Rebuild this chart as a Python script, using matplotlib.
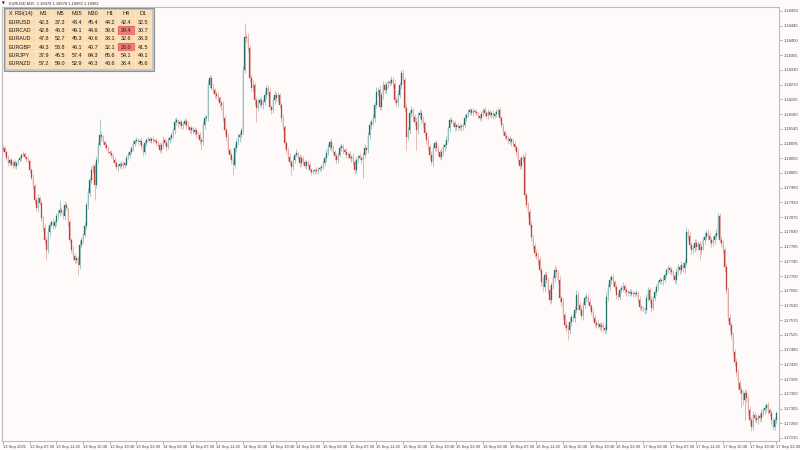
"""
EURUSD M15 - vela japonesa estilo MT4 con tabla RSI(14) multi-marco.
"""
import numpy as np
import matplotlib
matplotlib.use("Agg")
import matplotlib.pyplot as plt
from matplotlib.patches import Rectangle

FONT = ["Liberation Sans Narrow", "Liberation Sans", "DejaVu Sans"]
BG = "#FFFAFA"
BULL, BEAR = "#23716D", "#B8433F"
BULL_W, BEAR_W = "#86B8B4", "#E0A09E"

# ── datos ─────────────────────────────────────────────────────────────────────
BASE = 1.17000           # precio = BASE + puntos / 1e5
FIRST_OPEN = 1075

CLOSE_PTS = [
    # 13 Sep
    1081, 1069, 1051, 1036, 1045, 1030, 1039, 1027, 1036, 1045,
    1051, 1060, 1063, 1054, 1048, 1042, 1015, 991, 967, 925,
    901, 931, 916, 872, 842, 806, 776, 830, 851, 860,
    848, 860, 878, 887, 896, 890, 878, 910, 901, 860,
    806, 776, 758, 746, 752, 731, 791, 806, 821, 848,
    910, 946, 985, 1015, 1027, 970, 1045, 1090, 1119, 1113,
    1099, 1090, 1081, 1069, 1066, 1060, 1045, 1036, 1024, 1027,
    1033, 1027, 1036, 1030, 1051, 1060, 1069, 1081, 1093, 1102,
    1105, 1099, 1102, 1087, 1069, 1096, 1105, 1107, 1102, 1107,
    1105, 1102, 1096, 1090, 1075,
    # 14 Sep
    1090, 1105, 1096, 1084, 1105, 1110, 1119, 1134, 1158, 1164,
    1152, 1158, 1146, 1152, 1161, 1149, 1143, 1134, 1140, 1128,
    1134, 1122, 1119, 1105, 1099, 1149, 1170, 1173, 1269, 1290,
    1260, 1254, 1242, 1236, 1230, 1215, 1209, 1170, 1134, 1113,
    1075, 1060, 1045, 1030, 1081, 1099, 1113, 1119, 1134, 1314,
    1412, 1409, 1379, 1290, 1260, 1269, 1224, 1200, 1215, 1224,
    1209, 1218, 1239, 1260, 1248, 1203, 1194, 1224, 1239, 1230,
    1239, 1209, 1170, 1143, 1096, 1075, 1054, 1039, 1024, 1045,
    1060, 1066, 1054, 1036, 1051, 1039, 1027, 1039, 1030, 1015,
    1009, 1012, 1015, 1012, 1018, 1021,
    # 15 Sep
    1024, 1036, 1051, 1066, 1084, 1099, 1081, 1069, 1057, 1045,
    1060, 1081, 1087, 1075, 1069, 1060, 1063, 1051, 1054, 1039,
    1015, 1045, 1057, 1051, 1045, 1060, 1081, 1075, 1119, 1149,
    1158, 1170, 1209, 1248, 1254, 1203, 1239, 1269, 1254, 1269,
    1278, 1275, 1284, 1272, 1224, 1215, 1239, 1269, 1305, 1284,
    1200, 1113, 1134, 1185, 1194, 1173, 1158, 1134, 1179, 1185,
    1164, 1155, 1125, 1105, 1084, 1060, 1039, 1081, 1096, 1081,
    1069, 1054, 1069, 1084, 1090, 1105, 1140, 1164, 1158, 1155,
    1143, 1149, 1140, 1146, 1143, 1149, 1170, 1179, 1188, 1194,
    1185, 1191, 1188, 1185, 1176, 1170,
    # 16 Sep
    1182, 1194, 1185, 1176, 1188, 1179, 1185, 1176, 1182, 1188,
    1194, 1170, 1149, 1128, 1116, 1110, 1102, 1107, 1099, 1093,
    1084, 1069, 1045, 1027, 1051, 1054, 940, 910, 890, 851,
    815, 788, 767, 758, 746, 716, 681, 666, 701, 687,
    657, 627, 672, 692, 716, 710, 687, 633, 621, 582,
    552, 543, 537, 561, 576, 573, 597, 642, 612, 597,
    579, 612, 633, 636, 621, 609, 591, 573, 558, 552,
    555, 546, 552, 543, 537, 636, 666, 687, 695, 681,
    666, 642, 636, 657, 663, 669, 657, 651, 648, 651,
    645, 648, 645, 648, 627, 606, 603, 597, 597,
    # 17 Sep
    633, 657, 627, 603, 633, 651, 666, 681, 687, 684,
    687, 701, 716, 722, 716, 710, 698, 687, 710, 725,
    716, 731, 722, 737, 830, 818, 791, 776, 782, 797,
    785, 794, 776, 785, 806, 815, 827, 818, 806, 797,
    806, 818, 827, 878, 806, 797, 776, 725, 657, 573,
    552, 522, 472, 442, 412, 379, 358, 349, 328, 349,
    334, 298, 269, 248, 284, 275, 269, 281, 275, 290,
    298, 304, 313, 298, 290, 269, 248, 269, 290,
]

# mechas (puntos por encima / por debajo del cuerpo)
WICK_UP = [
    8, 5, 6, 9, 4, 7, 5, 10, 6, 4, 7, 5, 8, 6, 4, 9, 5, 6, 12, 8,
    10, 14, 7, 9, 6, 11, 8, 15, 9, 6, 12, 7, 10, 8, 29, 9, 6, 13, 7, 5,
    9, 6, 11, 8, 5, 7, 14, 10, 6, 12, 9, 15, 8, 11, 7, 10, 13, 9, 48, 12,
    8, 6, 10, 5, 7, 9, 4, 8, 6, 5, 7, 10, 6, 4, 8, 9, 5, 7, 11, 6,
    9, 5, 7, 12, 6, 8, 5, 10, 7, 6, 9, 4, 8, 6, 10, 7, 12, 5, 9, 8,
    6, 11, 7, 13, 9, 5, 8, 10, 6, 9, 7, 12, 5, 8, 6, 10, 7, 9, 11, 8,
    12, 9, 7, 15, 8, 10, 13, 7, 9, 11, 6, 8, 12, 9, 10, 14, 7, 9, 6, 11,
    8, 13, 9, 10, 12, 42, 10, 15, 9, 11, 14, 8, 10, 12, 7, 13, 9, 11, 8, 10,
    12, 7, 9, 11, 8, 10, 6, 9, 13, 7, 10, 8, 12, 6, 9, 7, 11, 5, 8, 10,
    6, 9, 7, 5, 8, 6, 7, 4, 9, 5, 6, 8, 10, 7, 11, 9, 6, 12, 8, 7,
    9, 6, 10, 8, 5, 7, 11, 6, 9, 7, 12, 8, 10, 6, 9, 7, 8, 11, 6, 10,
    13, 9, 11, 8, 15, 10, 14, 9, 12, 8, 10, 7, 9, 11, 8, 12, 10, 14, 9, 9,
    11, 8, 13, 10, 9, 12, 7, 10, 15, 8, 11, 9, 13, 7, 10, 12, 8, 11, 9, 7,
    10, 8, 6, 12, 9, 7, 11, 8, 6, 9, 7, 10, 5, 8, 6, 9, 7, 11, 6, 8,
    5, 7, 9, 6, 8, 4, 7, 10, 6, 8, 5, 9, 7, 6, 10, 5, 8, 6, 9, 7,
    8, 6, 10, 7, 9, 5, 11, 8, 6, 12, 9, 7, 10, 14, 8, 11, 9, 13, 7, 10,
    12, 8, 11, 9, 14, 10, 13, 8, 12, 10, 9, 15, 11, 8, 13, 10, 12, 9, 11, 8,
    14, 10, 9, 12, 15, 11, 8, 13, 10, 9, 12, 8, 11, 7, 10, 9, 8, 11, 7, 9,
    8, 10, 14, 9, 12, 8, 11, 7, 9, 10, 6, 8, 11, 7, 9, 6, 8, 10, 5, 7,
    9, 6, 11, 8, 7, 10, 12, 8, 9, 11, 7, 10, 8, 6, 9, 7, 11, 8, 6, 10,
    8, 11, 7, 9, 12, 10, 8, 13, 9, 11, 14, 10, 12, 9, 8, 11, 13, 10, 9, 12,
    10, 14, 9, 12, 11, 8, 13, 10, 12, 10, 9, 11, 8, 10, 13, 9, 12, 8, 11, 9,
    12, 10, 8, 11, 9, 13, 10, 8, 12, 9, 11, 8, 10, 7, 9, 12, 8, 10, 7, 9,
    8, 10, 7, 9, 6,
]
WICK_DN = [
    6, 9, 5, 8, 7, 4, 10, 6, 8, 5, 7, 9, 4, 6, 8, 5, 10, 7, 9, 11,
    8, 12, 6, 10, 9, 13, 30, 8, 11, 7, 9, 6, 12, 8, 10, 7, 9, 11, 6, 13,
    10, 8, 12, 9, 7, 30, 11, 8, 10, 6, 9, 12, 7, 10, 8, 45, 9, 11, 7, 10,
    6, 9, 7, 5, 10, 8, 6, 9, 7, 11, 5, 8, 6, 9, 4, 7, 10, 6, 8, 5,
    7, 9, 5, 8, 11, 6, 9, 4, 7, 6, 8, 5, 9, 7, 6, 10, 8, 6, 11, 7,
    9, 6, 8, 10, 7, 12, 5, 9, 8, 6, 10, 7, 9, 11, 6, 8, 10, 7, 12, 24,
    9, 11, 8, 12, 10, 7, 9, 13, 8, 10, 11, 14, 9, 12, 10, 8, 13, 11, 30, 9,
    12, 10, 14, 8, 11, 10, 13, 9, 12, 10, 11, 14, 42, 9, 12, 10, 13, 8, 11, 9,
    10, 12, 8, 11, 9, 13, 10, 12, 8, 14, 9, 11, 10, 24, 8, 10, 7, 9, 11, 8,
    10, 7, 9, 8, 6, 9, 5, 8, 7, 10, 6, 9, 7, 8, 11, 6, 9, 10, 7, 12,
    8, 10, 7, 9, 11, 6, 8, 10, 7, 12, 9, 11, 8, 10, 7, 13, 54, 9, 11, 8,
    10, 12, 9, 11, 8, 13, 10, 9, 12, 8, 11, 10, 9, 7, 12, 10, 8, 11, 9, 13,
    10, 12, 38, 9, 11, 10, 12, 8, 59, 11, 9, 12, 10, 8, 13, 9, 11, 10, 12, 8,
    9, 11, 7, 10, 8, 12, 9, 7, 10, 6, 8, 11, 7, 9, 6, 10, 8, 7, 9, 6,
    8, 6, 9, 7, 5, 8, 6, 9, 7, 10, 6, 8, 5, 9, 7, 6, 10, 8, 7, 9,
    7, 9, 6, 10, 8, 11, 7, 9, 12, 8, 10, 9, 13, 11, 9, 14, 10, 12, 9, 11,
    10, 13, 9, 12, 11, 14, 10, 12, 9, 13, 11, 10, 14, 9, 12, 11, 13, 10, 12, 30,
    11, 13, 9, 12, 10, 14, 11, 9, 13, 10, 12, 8, 11, 10, 9, 12, 8, 10, 9, 11,
    10, 12, 8, 11, 9, 13, 10, 8, 11, 9, 7, 10, 8, 9, 11, 7, 9, 6, 8, 10,
    7, 9, 8, 10, 6, 11, 8, 10, 9, 12, 7, 9, 8, 10, 6, 9, 11, 7, 9, 8,
    10, 8, 11, 9, 12, 7, 10, 8, 11, 13, 9, 12, 10, 11, 8, 12, 10, 9, 30, 11,
    9, 12, 10, 8, 11, 13, 9, 12, 10, 11, 8, 12, 10, 13, 11, 9, 14, 12, 10, 13,
    11, 14, 12, 45, 13, 60, 12, 14, 11, 13, 10, 12, 9, 11, 10, 13, 9, 11, 10, 12,
    9, 11, 8, 10, 12,
]

X_LABELS = [
    "13 Sep 2021", "13 Sep 07:30", "13 Sep 11:30", "13 Sep 15:30", "13 Sep 19:30", "13 Sep 23:30",
    "14 Sep 03:30", "14 Sep 07:30", "14 Sep 11:30", "14 Sep 15:30", "14 Sep 19:30", "14 Sep 23:30",
    "15 Sep 03:30", "15 Sep 07:30", "15 Sep 11:30", "15 Sep 15:30", "15 Sep 19:30", "15 Sep 23:30",
    "16 Sep 03:30", "16 Sep 07:30", "16 Sep 11:30", "16 Sep 15:30", "16 Sep 19:30", "16 Sep 23:30",
    "17 Sep 03:30", "17 Sep 07:30", "17 Sep 11:30", "17 Sep 15:30", "17 Sep 19:30", "17 Sep 23:30",
]
Y_LABELS = [
    "1.18490", "1.18445", "1.18400", "1.18355", "1.18310", "1.18270", "1.18225", "1.18180",
    "1.18140", "1.18095", "1.18050", "1.18005", "1.17960", "1.17920", "1.17875", "1.17830",
    "1.17785", "1.17745", "1.17700", "1.17655", "1.17610", "1.17570", "1.17525", "1.17480",
    "1.17435", "1.17395", "1.17350", "1.17305", "1.17260", "1.17215",
]
HEADER = "EURUSD,M15  1.18978 1.18978 1.18962 1.18962"

# tabla RSI(14)
TF = ["M1", "M5", "M15", "M30", "H1", "H4", "D1"]
PAIRS = ["EURUSD", "EURCAD", "EURAUD", "EURGBP", "EURJPY", "EURNZD"]
RSI = [
    [42.3, 37.3, 43.4, 45.4, 44.2, 42.4, 32.5],
    [42.8, 48.3, 49.1, 44.6, 39.6, 29.4, 30.7],
    [47.8, 52.7, 45.3, 40.6, 38.1, 32.6, 38.3],
    [49.3, 53.8, 48.1, 40.7, 32.1, 28.0, 41.5],
    [37.9, 46.5, 57.4, 64.3, 65.6, 54.1, 49.1],
    [57.2, 59.0, 52.9, 48.3, 43.6, 38.4, 45.6],
]
OVERSOLD, OVERBOUGHT = 30, 70

# ── velas ─────────────────────────────────────────────────────────────────────
c = BASE + np.array(CLOSE_PTS) / 1e5
o = BASE + np.r_[FIRST_OPEN, CLOSE_PTS[:-1]] / 1e5
top = np.maximum(o, c)
bot = np.minimum(o, c)
hi = top + np.array(WICK_UP) / 1e5
lo = bot - np.array(WICK_DN) / 1e5
x = np.arange(len(c))
bull = c >= o

W, H = 800, 450
fig = plt.figure(figsize=(W / 100, H / 100), dpi=100, facecolor=BG)
# área del gráfico en píxeles: x 2..779, y 7..441
ax = fig.add_axes([2 / W, (H - 441) / H, 777 / W, 434 / H], facecolor=BG)

ax.vlines(x, lo, hi, colors=np.where(bull, BULL_W, BEAR_W), lw=0.5, zorder=2)
ax.bar(x, np.maximum(top - bot, 0.3e-5), bottom=bot, width=0.56,
       color=np.where(bull, BULL, BEAR), edgecolor=np.where(bull, BULL, BEAR),
       lw=0.2, zorder=3)

# escala vertical: 1.18490 en y=11 px, 1.17215 en y=438 px
y_top, y_bot = 1.18490, 1.17215
per_px = (y_top - y_bot) / 427
ax.set_ylim(y_top - (441 - 11) * per_px, y_top + (11 - 7) * per_px)
ax.set_xlim(-0.6, 465.6)

ax.yaxis.tick_right()
ax.set_yticks(np.linspace(y_top, y_bot, len(Y_LABELS)))
ax.set_yticklabels(Y_LABELS, family=FONT, fontsize=3.0, color="#444444")
ax.set_xticks(np.arange(len(X_LABELS)) * 16)
ax.set_xticklabels(X_LABELS, family=FONT, fontsize=3.0, color="#444444", ha="left")
ax.tick_params(axis="y", length=2, width=0.4, color="#777777", pad=1.2)
ax.tick_params(axis="x", length=2, width=0.4, color="#777777", pad=1.0)
for s in ax.spines.values():
    s.set_color("#BDBDBD")
    s.set_linewidth(0.8)

# ── capa superpuesta en píxeles: cabecera y tabla ────────────────────────────
ov = fig.add_axes([0, 0, 1, 1], facecolor="none")
ov.set_xlim(0, W)
ov.set_ylim(H, 0)
ov.axis("off")

ov.text(1.5, 3.6, "▼", family="DejaVu Sans", fontsize=2.6, color="#222222", va="center")
ov.text(9, 3.6, HEADER, family=FONT, fontsize=2.9, color="#333333", va="center")

ov.add_patch(Rectangle((3.5, 7.5), 150, 63.5, fc="#C6C6C6", ec="#8F8F8F", lw=0.8, zorder=5))
col_x = [6, 35.5] + [35.5 + 16.5 * (k + 1) for k in range(len(TF))]
row_h = 8.33
row_y0 = 9.8
TXT = dict(family=FONT, fontsize=3.9, color="#1A1A1A", va="center", zorder=7)

for r in range(len(PAIRS) + 1):
    yy = row_y0 + r * row_h
    for k in range(len(TF) + 1):
        fc = "#FCDDB1"
        ec = "#FBEBD3"
        if r > 0 and k > 0:
            v = RSI[r - 1][k - 1]
            if v < OVERSOLD or v > OVERBOUGHT:
                fc, ec = "#EE7B78", "#D24A47"
        ov.add_patch(Rectangle((col_x[k], yy), col_x[k + 1] - col_x[k], row_h,
                               fc=fc, ec=ec, lw=0.5, zorder=6))
    cy = yy + row_h / 2
    if r == 0:
        ov.text(8.5, cy, "X", ha="left", **TXT)
        ov.text(23.5, cy, "RSI(14)", ha="center", **TXT)
        for k, name in enumerate(TF):
            ov.text((col_x[k + 1] + col_x[k + 2]) / 2, cy, name, ha="center", **TXT)
    else:
        ov.text(8.5, cy, PAIRS[r - 1], ha="left", **TXT)
        for k, v in enumerate(RSI[r - 1]):
            ov.text((col_x[k + 1] + col_x[k + 2]) / 2, cy, f"{v:.1f}", ha="center", **TXT)

fig.savefig("out.png", dpi=100, facecolor=BG)
